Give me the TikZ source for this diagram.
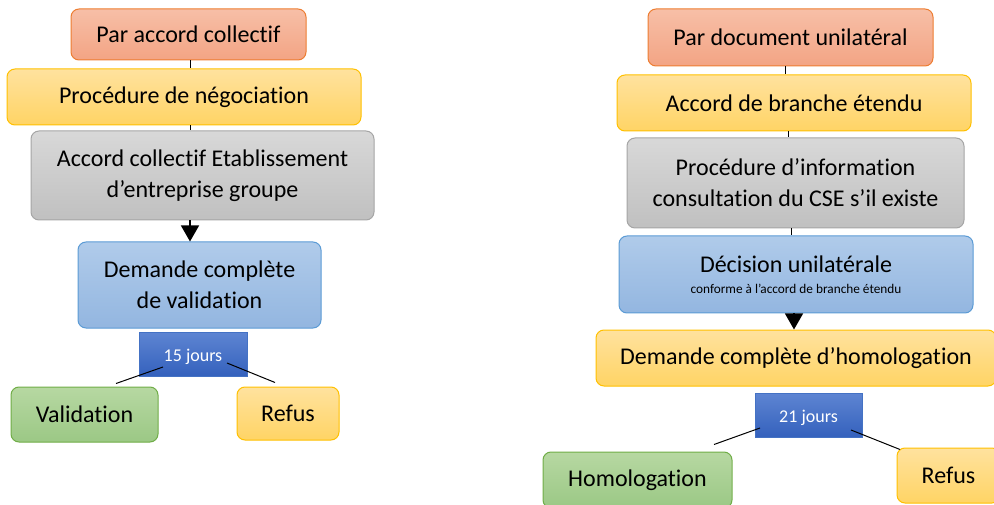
\documentclass[tikz,border=0pt]{standalone}
\usepackage{fontspec}
\setmainfont{Carlito}[Ligatures={NoCommon,NoRare,NoContextual}]
\usetikzlibrary{arrows.meta}
\definecolor{orB}{HTML}{ED7D31}\definecolor{orT}{HTML}{F7BFA7}\definecolor{orD}{HTML}{F3A484}
\definecolor{yeB}{HTML}{FFC000}\definecolor{yeT}{HTML}{FFE29E}\definecolor{yeD}{HTML}{FFD465}
\definecolor{grB}{HTML}{A5A5A5}\definecolor{grT}{HTML}{D8D8D8}\definecolor{grD}{HTML}{C0C0C0}
\definecolor{blB}{HTML}{5B9BD5}\definecolor{blT}{HTML}{B0CBEA}\definecolor{blD}{HTML}{93B6E0}
\definecolor{gnB}{HTML}{70AD47}\definecolor{gnT}{HTML}{B7D8A2}\definecolor{gnD}{HTML}{9BC885}
\definecolor{dbB}{HTML}{4472C4}\definecolor{dbT}{HTML}{5E85D2}\definecolor{dbD}{HTML}{3461BD}
\newcommand{\daytext}[1]{\raisebox{-7pt}[0pt][0pt]{#1}}
\tikzset{
  box/.style={rounded corners=8pt, line width=1pt, align=center, inner sep=0pt,
    font=\fontsize{24}{31}\selectfont},
  orbox/.style={box, draw=orB, top color=orT, bottom color=orD},
  yebox/.style={box, draw=yeB, top color=yeT, bottom color=yeD},
  grbox/.style={box, draw=grB, top color=grT, bottom color=grD},
  blbox/.style={box, draw=blB, top color=blT, bottom color=blD},
  gnbox/.style={box, draw=gnB, top color=gnT, bottom color=gnD},
  daybox/.style={inner sep=0pt, draw=dbB, line width=0.5pt, top color=dbT, bottom color=dbD,
    text=white, font=\fontsize{18}{22}\selectfont},
  conn/.style={line width=1pt, black},
  arr/.style={line width=1.2pt, black, -{Triangle[width=18pt,length=16pt]}},
}
\begin{document}
\begin{tikzpicture}[x=1pt,y=-1pt]
\useasboundingbox (0,0) rectangle (994,505);
% left panel
\node[orbox, minimum width=235pt, minimum height=51pt] (a1) at (188.5,34.5) {Par accord collectif};
\node[yebox, minimum width=354pt, minimum height=56pt] (a2) at (184,97) {Procédure de négociation};
\node[grbox, minimum width=343pt, minimum height=89pt] (a3) at (202.5,175.5) {Accord collectif Etablissement\\d’entreprise groupe};
\node[blbox, minimum width=243pt, minimum height=86pt] (a4) at (199.5,285) {Demande complète\\de validation};
\node[daybox, minimum width=108pt, minimum height=44pt] (a5) at (193,354) {\daytext{15 jours}};
\node[gnbox, minimum width=147pt, minimum height=55pt] (a6) at (84.5,414.5) {Validation};
\node[yebox, minimum width=102pt, minimum height=53pt] (a7) at (288,413.5) {Refus};
\draw[conn] ([xshift=1.5pt]a1.south) -- ([xshift=6pt]a2.north);
\draw[conn] ([xshift=6pt]a2.south) -- ([xshift=-12.5pt]a3.north);
\draw[arr] ([xshift=-12.5pt]a3.south) -- ([xshift=-9.5pt]a4.north);
\coordinate (a5l) at ([shift={(-30,13)}]a5.center);
\coordinate (a6t) at ([shift={(31.5,-3)}]a6.north);
\coordinate (a5r) at ([shift={(34,9)}]a5.center);
\coordinate (a7t) at ([shift={(-13,-4)}]a7.north);
\draw[conn] (a6t) -- (a5l);
\draw[conn] (a5r) -- (a7t);
% right panel
\node[orbox, minimum width=285pt, minimum height=57pt] (b1) at (790.5,37.5) {Par document unilatéral};
\node[yebox, minimum width=354pt, minimum height=56pt] (b2) at (794,103) {Accord de branche étendu};
\node[grbox, minimum width=337pt, minimum height=90pt] (b3) at (795.5,183) {Procédure d’information\\consultation du CSE s’il existe};
\node[blbox, minimum width=354pt, minimum height=77pt] (b4) at (796,274.5) {Décision unilatérale\\[-10pt]{\fontsize{13.3}{15}\selectfont conforme à l’accord de branche étendu}};
\node[yebox, minimum width=400pt, minimum height=56pt] (b5) at (796,358) {Demande complète d’homologation};
\node[daybox, minimum width=107pt, minimum height=44pt] (b6) at (808.5,415) {\daytext{21 jours}};
\node[gnbox, minimum width=189pt, minimum height=56pt] (b7) at (637.5,480) {Homologation};
\node[yebox, minimum width=103pt, minimum height=55pt] (b8) at (948.5,475.5) {Refus};
\draw[conn] ([xshift=-5.5pt]b1.south) -- ([xshift=-9pt]b2.north);
\draw[conn] ([xshift=-6pt]b2.south) -- ([xshift=-7.5pt]b3.north);
\draw[conn] ([xshift=-4.5pt]b3.south) -- ([xshift=-5pt]b4.north);
\draw[arr] ([xshift=-2pt]b4.south) -- ([xshift=-2pt]b5.north);
\coordinate (b6l) at ([shift={(-48.5,13)}]b6.center);
\coordinate (b7t) at ([shift={(76.5,-7)}]b7.north);
\coordinate (b6r) at ([shift={(42.5,15)}]b6.center);
\coordinate (b8t) at ([shift={(-48.5,2)}]b8.north);
\draw[conn] (b7t) -- (b6l);
\draw[conn] (b6r) -- (b8t);
\end{tikzpicture}
\end{document}
